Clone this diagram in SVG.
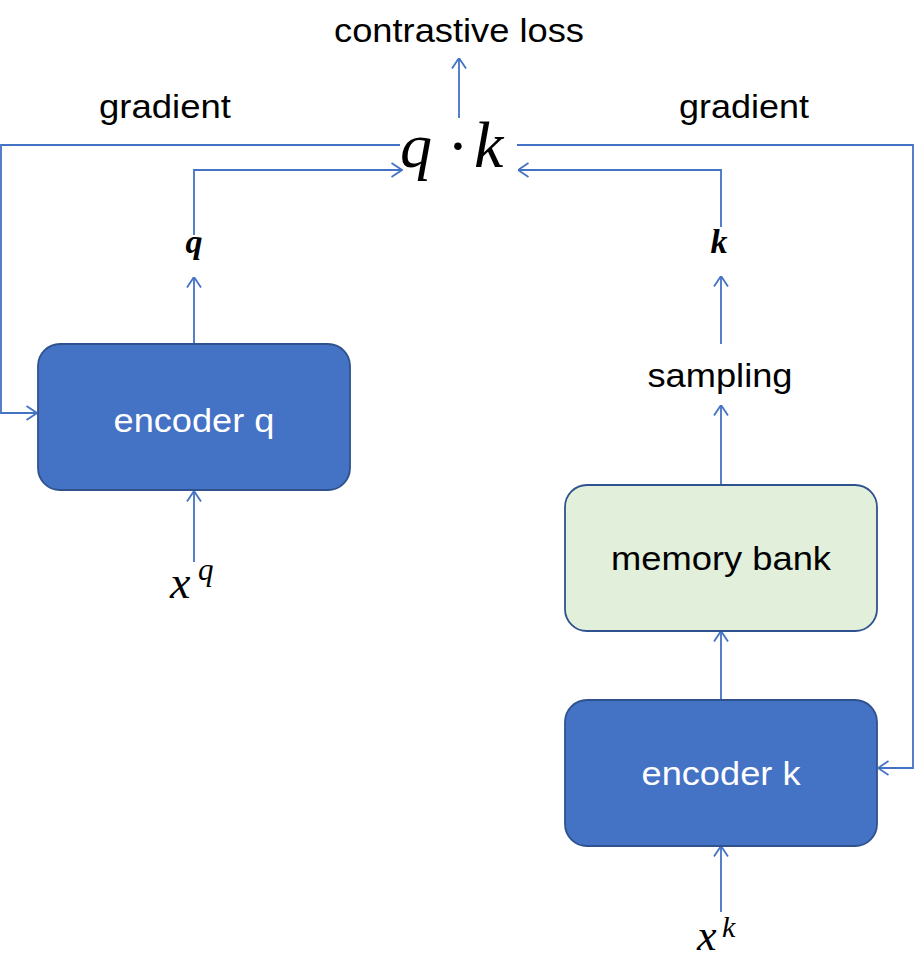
<svg xmlns="http://www.w3.org/2000/svg" width="916" height="962" viewBox="0 0 916 962">
<defs>
<style>
.ln{fill:none;stroke:#4472C4;stroke-width:1.8}
.arr{marker-end:url(#ah)}
.box{fill:#4472C4;stroke:#2F528F;stroke-width:1.8}
.mem{fill:#E2EFDA;stroke:#2F528F;stroke-width:1.8}
.lbl{font-family:"Liberation Sans",Arial,sans-serif;font-size:33px;fill:#000;text-anchor:middle}
.wl{font-family:"Liberation Sans",Arial,sans-serif;font-size:33px;fill:#fff;text-anchor:middle}
.m{font-family:"Liberation Serif","Times New Roman",serif;font-style:italic;fill:#000}
</style>
<marker id="ah" viewBox="0 0 12 16" refX="11.5" refY="8" markerWidth="12" markerHeight="16" markerUnits="userSpaceOnUse" orient="auto">
<path d="M1,1 L11.5,8 L1,15" fill="none" stroke="#4472C4" stroke-width="1.8"/>
</marker>
</defs>
<rect width="916" height="962" fill="#fff"/>
<g id="connectors">
<path class="ln arr" d="M459,118 V58"/>
<path class="ln arr" d="M400,145 H1 V413 H37"/>
<path class="ln arr" d="M517,145 H913 V768 H878"/>
<path class="ln arr" d="M194,235 V170 H402"/>
<path class="ln arr" d="M721,227 V170 H518"/>
<path class="ln arr" d="M194,344 V277"/>
<path class="ln arr" d="M194,562 V491"/>
<path class="ln arr" d="M721,485 V405"/>
<path class="ln arr" d="M721,344 V276"/>
<path class="ln arr" d="M721,700 V631"/>
<path class="ln arr" d="M721,912 V846"/>
</g>
<g id="encoder-q">
<rect class="box" x="38" y="344" width="312" height="146" rx="22"/>
<text class="wl" x="194" y="432" textLength="161" lengthAdjust="spacingAndGlyphs">encoder q</text>
</g>
<g id="memory-bank">
<rect class="mem" x="565" y="485" width="312" height="146" rx="22"/>
<text class="lbl" x="721" y="570" textLength="220" lengthAdjust="spacingAndGlyphs">memory bank</text>
</g>
<g id="encoder-k">
<rect class="box" x="565" y="700" width="312" height="146" rx="22"/>
<text class="wl" x="721" y="785" textLength="159" lengthAdjust="spacingAndGlyphs">encoder k</text>
</g>
<g id="contrastive-loss">
<text class="lbl" x="459" y="42" textLength="250" lengthAdjust="spacingAndGlyphs">contrastive loss</text>
</g>
<g id="gradient-left">
<text class="lbl" x="165" y="118" textLength="132" lengthAdjust="spacingAndGlyphs">gradient</text>
</g>
<g id="gradient-right">
<text class="lbl" x="744" y="118" textLength="130" lengthAdjust="spacingAndGlyphs">gradient</text>
</g>
<g id="sampling">
<text class="lbl" x="720" y="387" textLength="145" lengthAdjust="spacingAndGlyphs">sampling</text>
</g>
<g id="qk">
<text class="m" x="400" y="167" font-size="64">q</text>
<text x="458" y="167" font-size="64" font-family="Liberation Serif,serif" text-anchor="middle" fill="#000">·</text>
<text class="m" x="474" y="167" font-size="66">k</text>
</g>
<g id="q-label">
<text class="m" x="194" y="253" font-size="34" font-weight="bold" text-anchor="middle">q</text>
</g>
<g id="k-label">
<text class="m" x="719" y="253" font-size="34" font-weight="bold" text-anchor="middle">k</text>
</g>
<g id="xq">
<text class="m" x="170" y="598" font-size="46">x</text>
<text class="m" x="198" y="580" font-size="31">q</text>
</g>
<g id="xk">
<text class="m" x="697" y="950" font-size="44">x</text>
<text class="m" x="722" y="937" font-size="30">k</text>
</g>
</svg>
